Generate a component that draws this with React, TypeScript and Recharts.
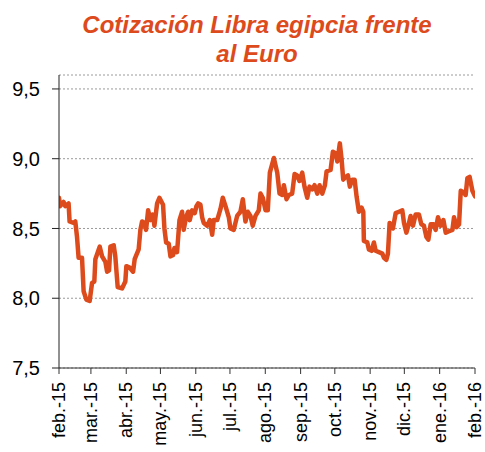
import React from "react";
import { LineChart, Line, XAxis, YAxis, CartesianGrid } from "recharts";

const titleLines = ["Cotización Libra egipcia frente", "al Euro"];

// Month tick positions (days since 1 Feb 2015) and labels
const monthTicks = [0, 28, 59, 89, 120, 150, 181, 212, 242, 273, 303, 334, 365];
const monthLabels = [
  "feb.-15", "mar.-15", "abr.-15", "may.-15", "jun.-15", "jul.-15",
  "ago.-15", "sep.-15", "oct.-15", "nov.-15", "dic.-15", "ene.-16", "feb.-16",
];

const yTicks = [7.5, 8.0, 8.5, 9.0, 9.5];

// Days since 1 Feb 2015
const dayOffsets = [
  0, 1, 4, 5.5, 8.4, 9.3, 12.8, 14.3, 15.8, 17.2, 20.2, 21.6, 24, 26.9, 29, 31, 31.9,
  35.7, 37.8, 40.7, 42.2, 43.9, 45.1, 48, 49.4, 51.5, 55.3, 58.2, 59.1, 62, 65, 66.4,
  69.9, 71.4, 72.9, 74.9, 76.4, 78.2, 80.2, 82.2, 83.7, 86.1, 88.1, 91.3, 92.5, 94,
  96.3, 97.8, 100.1, 101.3, 103.6, 105.7, 108, 109.4, 111.5, 113.3, 114.7, 116.8,
  119.1, 120.6, 122.1, 124.1, 125.6, 127, 130, 132.3, 134.4, 135.8, 138.8, 141.7,
  143.7, 146.1, 149, 150.4, 153.3, 156.3, 159.2, 161.3, 163.6, 165.6, 168, 170,
  172.4, 175.3, 176.8, 178.8, 181.2, 183.2, 185, 188.5, 191.5, 193.5, 195.9, 197.3,
  199.6, 201.7, 204.6, 206.7, 209, 211, 213.4, 215.4, 217.8, 219.8, 222.2, 224.2,
  226.6, 228.6, 231, 233.3, 234.8, 238.3, 240.3, 242.7, 244.2, 246.4, 247.9, 249.4,
  251.5, 253.5, 255.2, 257.3, 259.4, 261.1, 263.1, 265.5, 267, 267.5, 270.5, 271.9,
  274.3, 276.3, 277.8, 280.7, 283.7, 285.1, 287.2, 288.6, 290.1, 293, 295.4, 298.3,
  301.2, 302.7, 304.8, 306.5, 308.5, 310.6, 312.9, 315.8, 317.9, 320.2, 322.3, 324.1,
  326.1, 328.5, 330.5, 332.5, 334.9, 337.3, 339.3, 342.2, 345.2, 346.6, 349, 351,
  352.5, 354.8, 356.8, 358.3, 360.3, 362.7, 365,
];

const rates = [
  8.72, 8.66, 8.69, 8.66, 8.68, 8.55, 8.54, 8.55, 8.44, 8.29, 8.29, 8.05, 7.99, 7.98, 8.11, 8.12, 8.28,
  8.37, 8.30, 8.26, 8.19, 8.20, 8.37, 8.38, 8.30, 8.08, 8.07, 8.12, 8.23, 8.22, 8.19, 8.28,
  8.35, 8.49, 8.55, 8.54, 8.49, 8.63, 8.56, 8.60, 8.52, 8.68, 8.72, 8.67, 8.50, 8.40,
  8.39, 8.30, 8.31, 8.36, 8.33, 8.56, 8.62, 8.49, 8.58, 8.62, 8.56, 8.63,
  8.61, 8.66, 8.68, 8.67, 8.58, 8.54, 8.52, 8.56, 8.455, 8.56, 8.56, 8.64,
  8.72, 8.66, 8.58, 8.50, 8.49, 8.59, 8.62, 8.71, 8.55, 8.62, 8.59, 8.52,
  8.59, 8.63, 8.75, 8.72, 8.63, 8.63, 8.90, 9.005, 8.90, 8.75, 8.74, 8.81,
  8.71, 8.74, 8.75, 8.89, 8.88, 8.84, 8.90, 8.80, 8.72, 8.80, 8.78, 8.81,
  8.75, 8.81, 8.75, 8.81, 8.91, 8.92, 9.05, 9.04, 8.98, 9.11, 9.00, 8.85,
  8.87, 8.88, 8.80, 8.85, 8.85, 8.73, 8.62, 8.65, 8.62, 8.41, 8.40, 8.35,
  8.34, 8.40, 8.34, 8.33, 8.32, 8.29, 8.275, 8.32, 8.54, 8.50, 8.61, 8.62,
  8.63, 8.54, 8.47, 8.52, 8.59, 8.52, 8.60, 8.60, 8.53, 8.52, 8.44, 8.42,
  8.53, 8.53, 8.49, 8.58, 8.52, 8.56, 8.47, 8.48, 8.49, 8.58, 8.51, 8.53,
  8.77, 8.76, 8.74, 8.86, 8.87, 8.77, 8.73,
];

const data = dayOffsets.map((d, i) => ({ day: d, rate: rates[i] }));

const ORANGE = "#DD4A1C";
const FONT = "'Liberation Sans', Arial, sans-serif";

const labelFor = (v: number) => {
  const i = monthTicks.indexOf(v);
  return i >= 0 ? monthLabels[i] : "";
};

const XTick = (props: any) => {
  const { x, y, payload } = props;
  return (
    <text
      transform={`translate(${x + 6},${y + 6}) rotate(-90)`}
      textAnchor="end"
      fontSize={18}
      fontFamily={FONT}
      fill="#000"
    >
      {labelFor(payload.value)}
    </text>
  );
};

export default function App() {
  return (
    <div style={{ position: "absolute", left: 0, top: 0, width: 485, height: 452, overflow: "hidden", background: "#fff" }}>
      <div
        style={{
          position: "absolute",
          left: 30,
          top: 10,
          width: 454,
          textAlign: "center",
          fontFamily: FONT,
          fontWeight: "bold",
          fontStyle: "italic",
          fontSize: 24,
          lineHeight: "29px",
          color: ORANGE,
        }}
      >
        {titleLines.map((t) => (
          <div key={t}>{t}</div>
        ))}
      </div>
      <LineChart
        width={485}
        height={452}
        data={data}
        margin={{ top: 75, right: 10, bottom: 0, left: 0 }}
      >
        <CartesianGrid vertical={false} stroke="#9a9a9a" strokeDasharray="2 2" />
        <XAxis
          dataKey="day"
          type="number"
          domain={[0, 365]}
          ticks={monthTicks}
          interval={0}
          allowDataOverflow
          stroke="#333"
          tickSize={6}
          tickMargin={2}
          height={84}
          tick={<XTick />}
        />
        <YAxis
          type="number"
          domain={[7.5, 9.6]}
          ticks={yTicks}
          interval={0}
          allowDataOverflow
          width={59}
          stroke="#222"
          tickSize={7}
          tickMargin={12}
          tick={{ fill: "#000", fontSize: 20, fontFamily: FONT }}
          tickFormatter={(v: number) => v.toFixed(1).replace(".", ",")}
        />
        <Line
          type="linear"
          dataKey="rate"
          stroke={ORANGE}
          strokeWidth={4.5}
          dot={false}
          strokeLinejoin="round"
          strokeLinecap="round"
          isAnimationActive={false}
        />
      </LineChart>
    </div>
  );
}
